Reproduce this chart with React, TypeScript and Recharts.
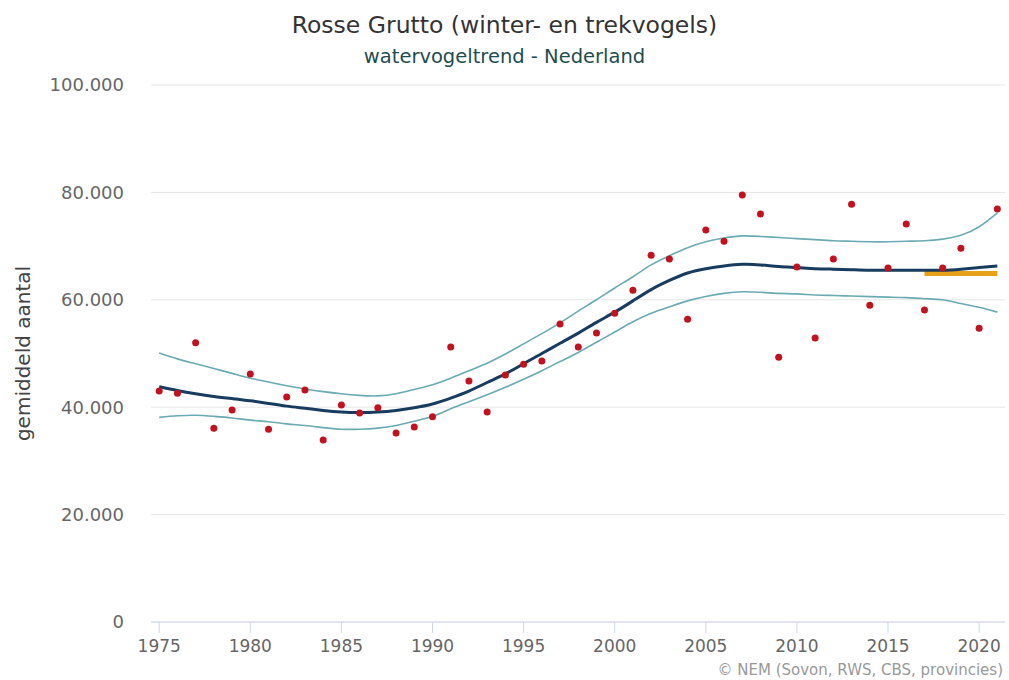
import React from 'react';
import { ComposedChart, Line, XAxis, YAxis, CartesianGrid } from 'recharts';

const years = [1975,1976,1977,1978,1979,1980,1981,1982,1983,1984,1985,1986,1987,1988,1989,1990,1991,1992,1993,1994,1995,1996,1997,1998,1999,2000,2001,2002,2003,2004,2005,2006,2007,2008,2009,2010,2011,2012,2013,2014,2015,2016,2017,2018,2019,2020,2021];

const counts = [43000,42600,52000,36100,39500,46200,35900,41900,43200,33900,40400,38900,39900,35200,36300,38200,51200,44900,39100,46000,48000,48600,55500,51200,53800,57500,61800,68300,67600,56400,73000,70900,79500,76000,49300,66100,52900,67600,77800,59000,65900,74100,58100,65900,69600,54700,76900];

const trend = [43800,43100,42500,42000,41600,41200,40700,40200,39800,39400,39100,39000,39100,39400,39900,40600,41700,43000,44600,46200,48100,50000,51900,53800,55800,57700,59800,61900,63600,65000,65800,66300,66600,66500,66200,66000,65800,65700,65600,65500,65500,65500,65500,65500,65700,66000,66300];

const upper = [50100,49000,48100,47200,46300,45400,44700,44000,43400,42900,42500,42200,42100,42500,43300,44200,45400,46800,48200,49900,51800,53700,55700,57900,60000,62200,64300,66500,68200,69700,70800,71500,71900,71800,71600,71400,71200,71000,70900,70800,70800,70900,71000,71300,72000,73600,76200];

const lower = [38100,38400,38500,38300,38000,37600,37300,36900,36600,36200,35900,35900,36100,36600,37400,38300,39700,41000,42300,43700,45200,46800,48500,50200,52100,54000,55900,57500,58700,59800,60600,61200,61500,61400,61200,61100,60900,60800,60700,60600,60500,60400,60200,60000,59300,58600,57700];

const baselineYears = [2017, 2018, 2019, 2020, 2021];
const baselineValue = 64900;

const xTicks = [1975,1980,1985,1990,1995,2000,2005,2010,2015,2020];
const yTicks = [0,20000,40000,60000,80000,100000];

const data = years.map((y, i) => ({
  year: y,
  count: counts[i],
  trend: trend[i],
  upper: upper[i],
  lower: lower[i],
  baseline: baselineYears.includes(y) ? baselineValue : null,
}));

const fmt = (v: number) => v.toString().replace(/\B(?=(\d{3})+(?!\d))/g, '.');

export default function App() {
  return (
    <div style={{ position: 'absolute', left: 0, top: 0, width: 1009, height: 680, background: '#fff', fontFamily: '"DejaVu Sans", sans-serif' }}>
      <div style={{ position: 'absolute', top: 11, left: 0, width: 1009, textAlign: 'center', fontSize: 23.5, color: '#333', whiteSpace: 'nowrap' }}>
        Rosse Grutto (winter- en trekvogels)
      </div>
      <div style={{ position: 'absolute', top: 45, left: 0, width: 1009, textAlign: 'center', fontSize: 19.5, color: '#1e4d4f', whiteSpace: 'nowrap' }}>
        watervogeltrend - Nederland
      </div>
      <ComposedChart width={1009} height={680} data={data} margin={{ top: 85, right: 4, left: 0, bottom: 0 }}>
        <CartesianGrid vertical={false} stroke="#e6e6e6" />
        <XAxis
          dataKey="year"
          type="number"
          domain={[1974.55, 2021.42]}
          allowDataOverflow
          ticks={xTicks}
          height={58}
          stroke="#ccd6eb"
          tickSize={11}
          tickMargin={7}
          tick={{ fill: '#666', fontSize: 17, fontFamily: '"DejaVu Sans", sans-serif' }}
        />
        <YAxis
          type="number"
          domain={[0, 100000]}
          ticks={yTicks}
          width={151}
          axisLine={false}
          tickLine={false}
          tickSize={0}
          tickMargin={27}
          tickFormatter={fmt}
          tick={{ fill: '#666', fontSize: 18 }}
          label={{ value: 'gemiddeld aantal', angle: -90, position: 'insideLeft', offset: 23, style: { fill: '#444', fontSize: 20, textAnchor: 'middle' } }}
        />
        <Line dataKey="count" stroke="none" isAnimationActive={false} dot={{ r: 3.5, fill: '#c1121f', stroke: 'none' }} activeDot={false} />
        <Line dataKey="upper" type="natural" stroke="#6aaab3" strokeWidth={1.6} dot={false} isAnimationActive={false} />
        <Line dataKey="lower" type="natural" stroke="#6aaab3" strokeWidth={1.6} dot={false} isAnimationActive={false} />
        <Line dataKey="baseline" type="linear" stroke="#e8a21a" strokeWidth={5} dot={false} connectNulls={false} isAnimationActive={false} />
        <Line dataKey="trend" type="natural" stroke="#173c5e" strokeWidth={3} dot={false} isAnimationActive={false} />
      </ComposedChart>
      <div style={{ position: 'absolute', top: 661, right: 6, fontSize: 15, color: '#999', whiteSpace: 'nowrap' }}>
        © NEM (Sovon, RWS, CBS, provincies)
      </div>
    </div>
  );
}
